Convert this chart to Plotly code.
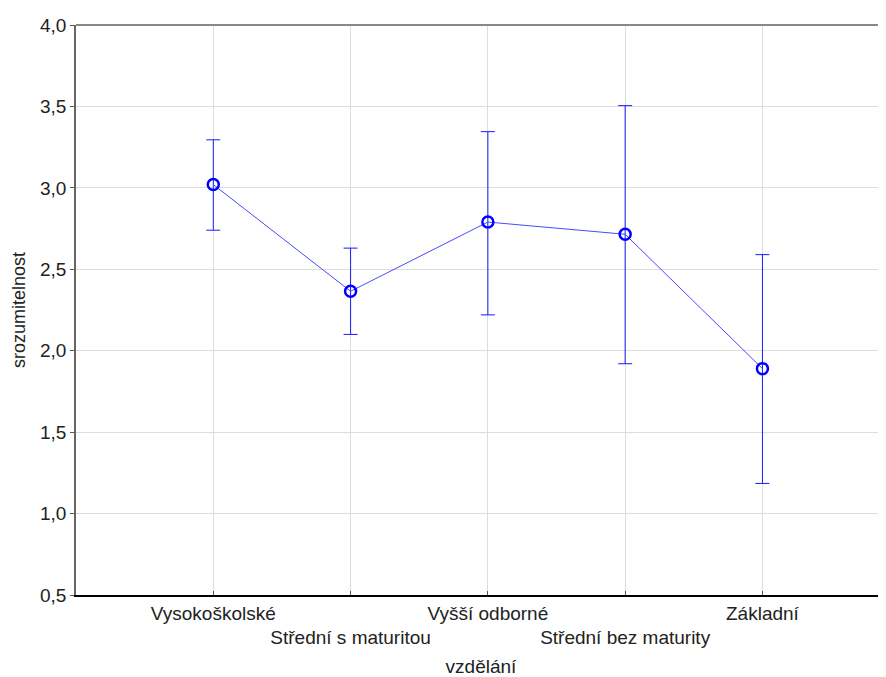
import plotly.graph_objects as go

categories = ["Vysokoškolské", "Střední s maturitou", "Vyšší odborné", "Střední bez maturity", "Základní"]
means = [3.02, 2.365, 2.79, 2.715, 1.89]
upper = [3.295, 2.63, 3.345, 3.505, 2.59]
lower = [2.74, 2.10, 2.22, 1.92, 1.185]

err_plus = [u - m for u, m in zip(upper, means)]
err_minus = [m - l for m, l in zip(means, lower)]

ticktext = [c if i % 2 == 0 else "<br>" + c for i, c in enumerate(categories)]

fig = go.Figure()
fig.add_trace(go.Scatter(
    x=categories, y=means,
    mode="lines+markers",
    line=dict(color="#4a4aff", width=1),
    marker=dict(symbol="circle-open", size=11, color="#0000ff", line=dict(width=2.5, color="#0000ff")),
    error_y=dict(type="data", symmetric=False, array=err_plus, arrayminus=err_minus,
                 color="#1a1aff", thickness=1, width=7),
    showlegend=False,
))

fig.update_layout(
    width=878, height=669,
    margin=dict(l=68, r=0, t=17, b=82),
    paper_bgcolor="white", plot_bgcolor="white",
    separators=",.",
    font=dict(family="Liberation Sans, Arial, sans-serif", size=19, color="#222222"),
    xaxis=dict(
        type="category", range=[-1, 4.9],
        tickvals=categories, ticktext=ticktext, tickangle=0,
        showgrid=True, gridcolor="#dddddd", gridwidth=1,
        showline=True, linecolor="#000000", linewidth=1.5,
        ticks="inside", ticklen=4, tickcolor="#555555",
        tickfont=dict(size=19),
        title=dict(text="vzdělání", font=dict(size=19), standoff=14),
        mirror=False, zeroline=False, automargin=False,
    ),
    yaxis=dict(
        range=[0.5, 4.0], dtick=0.5, tickformat=".1f",
        showgrid=True, gridcolor="#dddddd", gridwidth=1,
        showline=True, linecolor="#666666", linewidth=1.5,
        ticks="outside", ticklen=4, tickcolor="#555555",
        tickfont=dict(size=19),
        title=dict(text="srozumitelnost", font=dict(size=18), standoff=10),
        zeroline=False, automargin=False,
    ),
    shapes=[dict(type="line", xref="paper", yref="paper", x0=0, x1=1, y0=1, y1=1,
                 line=dict(color="#888888", width=2))],
)

fig.write_html("out.html")
